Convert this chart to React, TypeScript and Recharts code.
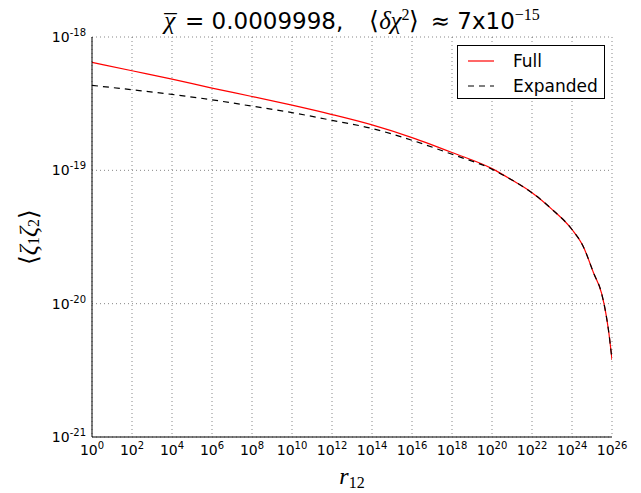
import React from "react";
import { LineChart, Line, XAxis, YAxis, CartesianGrid, Legend } from "recharts";

// values (log-log)
const rValues = [
  1, 1e2, 1e4, 1e6, 1e8, 1e10, 1e12, 1e14, 1e16, 1e18, 1e20, 1e21, 1e22, 1e23,
  1e24, 3.6e24, 1.2e25, 3.0e25, 4.9e25, 6.6e25, 1e26,
];
const fullValues = [
  6.45e-19, 5.58e-19, 4.83e-19, 4.14e-19, 3.58e-19, 3.08e-19, 2.62e-19,
  2.19e-19, 1.76e-19, 1.36e-19, 1.03e-19, 8.45e-20, 6.8e-20, 5.1e-20, 3.6e-20,
  2.7e-20, 1.7e-20, 1.2e-20, 8.5e-21, 6.4e-21, 3.8e-21,
];
const expandedValues = [
  4.34e-19, 4.02e-19, 3.71e-19, 3.38e-19, 3.03e-19, 2.71e-19, 2.37e-19,
  2.06e-19, 1.68e-19, 1.32e-19, 1.02e-19, 8.45e-20, 6.8e-20, 5.1e-20, 3.6e-20,
  2.7e-20, 1.7e-20, 1.2e-20, 8.5e-21, 6.4e-21, 3.8e-21,
];
const seriesNames = ["Full", "Expanded"];

const xTicks = [
  1, 1e2, 1e4, 1e6, 1e8, 1e10, 1e12, 1e14, 1e16, 1e18, 1e20, 1e22, 1e24, 1e26,
];
const yTicks = [1e-21, 1e-20, 1e-19, 1e-18];
const yMinorTicks = [1e-21, 1e-20, 1e-19].flatMap((d) =>
  [2, 3, 4, 5, 6, 7, 8, 9].map((m) => m * d)
);

const data = rValues.map((r, i) => ({
  r,
  full: fullValues[i],
  expanded: expandedValues[i],
}));

const FONT = "'DejaVu Sans', sans-serif";
const MATH = "'Liberation Serif', serif";
const X_DOMAIN = [1, 1e26];
const Y_DOMAIN = [1e-21, 1e-18];

const exp10 = (v: number) => Math.round(Math.log10(v));

const XTick = (props: any) => {
  const { x, y, payload } = props;
  return (
    <text x={x} y={y + 18} textAnchor="middle" fontFamily={FONT} fontSize={14} fill="#000">
      <tspan>10</tspan>
      <tspan dy={-6} fontSize={10}>{exp10(payload.value)}</tspan>
    </text>
  );
};

const YTick = (props: any) => {
  const { x, y, payload } = props;
  return (
    <text x={x - 6} y={y + 5} textAnchor="end" fontFamily={FONT} fontSize={14} fill="#000">
      <tspan>10</tspan>
      <tspan dy={-6} fontSize={10}>{exp10(payload.value)}</tspan>
    </text>
  );
};

const LegendBox = (props: any) => {
  const { payload = [] } = props;
  const items = seriesNames
    .map((n) => payload.find((p: any) => p.value === n))
    .filter(Boolean);
  return (
    <div
      style={{
        border: "1px solid #000",
        background: "#fff",
        width: 148,
        height: 54,
        boxSizing: "border-box",
        fontFamily: FONT,
        fontSize: 17,
        paddingTop: 2,
      }}
    >
      {items.map((p: any) => (
        <div key={p.value} style={{ display: "flex", alignItems: "center", height: 25 }}>
          <svg width={55} height={10}>
            <line
              x1={10}
              x2={36}
              y1={5}
              y2={5}
              stroke={p.color}
              strokeWidth={1.2}
              strokeDasharray={p.payload?.strokeDasharray}
            />
          </svg>
          <span>{p.value}</span>
        </div>
      ))}
    </div>
  );
};

export default function App() {
  return (
    <div style={{ position: "absolute", left: 0, top: 0, background: "#fff" }}>
      <LineChart
        width={641}
        height={493}
        data={data}
        margin={{ top: 37, right: 29, bottom: 0, left: 0 }}
      >
        <CartesianGrid stroke="#000" strokeOpacity={0.6} strokeDasharray="1 3" strokeWidth={0.8} />

        <XAxis
          dataKey="r"
          type="number"
          scale="log"
          domain={X_DOMAIN}
          ticks={xTicks}
          interval={0}
          allowDataOverflow
          height={56}
          tickLine={false}
          tickSize={0}
          tickMargin={0}
          axisLine={{ stroke: "#000", strokeWidth: 1 }}
          tick={<XTick />}
        />
        <XAxis
          xAxisId="bottomTicks"
          orientation="bottom"
          mirror
          type="number"
          scale="log"
          domain={X_DOMAIN}
          ticks={xTicks}
          interval={0}
          allowDataOverflow
          height={0}
          tick={false}
          tickSize={5}
          tickLine={{ stroke: "#000" }}
          axisLine={false}
        />
        <XAxis
          xAxisId="topTicks"
          orientation="top"
          mirror
          type="number"
          scale="log"
          domain={X_DOMAIN}
          ticks={xTicks}
          interval={0}
          allowDataOverflow
          height={0}
          tick={false}
          tickSize={5}
          tickLine={{ stroke: "#000" }}
          axisLine={{ stroke: "#000", strokeWidth: 1 }}
        />

        <YAxis
          type="number"
          scale="log"
          domain={Y_DOMAIN}
          ticks={yTicks}
          interval={0}
          allowDataOverflow
          width={92}
          tickLine={false}
          tickSize={0}
          tickMargin={0}
          axisLine={{ stroke: "#000", strokeWidth: 1 }}
          tick={<YTick />}
        />
        <YAxis
          yAxisId="leftMajor"
          orientation="left"
          mirror
          type="number"
          scale="log"
          domain={Y_DOMAIN}
          ticks={yTicks}
          interval={0}
          allowDataOverflow
          width={0}
          tick={false}
          tickSize={5}
          tickLine={{ stroke: "#000" }}
          axisLine={false}
        />
        <YAxis
          yAxisId="leftMinor"
          orientation="left"
          mirror
          type="number"
          scale="log"
          domain={Y_DOMAIN}
          ticks={yMinorTicks}
          interval={0}
          allowDataOverflow
          width={0}
          tick={false}
          tickSize={3}
          tickLine={{ stroke: "#000" }}
          axisLine={false}
        />
        <YAxis
          yAxisId="rightMajor"
          orientation="right"
          mirror
          type="number"
          scale="log"
          domain={Y_DOMAIN}
          ticks={yTicks}
          interval={0}
          allowDataOverflow
          width={0}
          tick={false}
          tickSize={5}
          tickLine={{ stroke: "#000" }}
          axisLine={{ stroke: "#000", strokeWidth: 1 }}
        />
        <YAxis
          yAxisId="rightMinor"
          orientation="right"
          mirror
          type="number"
          scale="log"
          domain={Y_DOMAIN}
          ticks={yMinorTicks}
          interval={0}
          allowDataOverflow
          width={0}
          tick={false}
          tickSize={3}
          tickLine={{ stroke: "#000" }}
          axisLine={false}
        />

        <Line
          name="Full"
          dataKey="full"
          type="monotone"
          stroke="#ff0000"
          strokeWidth={1.2}
          dot={false}
          isAnimationActive={false}
        />
        <Line
          name="Expanded"
          dataKey="expanded"
          type="monotone"
          stroke="#000"
          strokeWidth={1.2}
          strokeDasharray="6 5"
          dot={false}
          isAnimationActive={false}
        />

        <Legend
          layout="vertical"
          align="center"
          verticalAlign="middle"
          content={<LegendBox />}
          wrapperStyle={{ left: 457, top: 45, width: 148, height: 54 }}
        />

        <text x={352} y={29} textAnchor="middle" fontSize={23} fill="#000" fontFamily={FONT}>
          <tspan fontFamily={MATH} fontStyle="italic" fontSize={25}>χ</tspan>
          <tspan fontFamily={MATH} fontSize={25} dx={-11} dy={3}>¯</tspan>
          <tspan dx={1} dy={-3}> = 0.0009998,</tspan>
          <tspan dx={26} fontFamily={MATH} fontSize={25}>⟨</tspan>
          <tspan fontFamily={MATH} fontStyle="italic" fontSize={25}>δχ</tspan>
          <tspan dy={-9} fontSize={16} fontFamily={MATH}>2</tspan>
          <tspan dy={9} fontFamily={MATH} fontSize={25}>⟩</tspan>
          <tspan dx={4}> ≈ 7x10</tspan>
          <tspan dy={-9} fontSize={16} fontFamily={MATH}>−15</tspan>
        </text>

        <text
          x={28}
          y={237}
          transform="rotate(-90 28 237)"
          textAnchor="middle"
          dominantBaseline="central"
          fontSize={25}
          fill="#000"
          fontFamily={MATH}
        >
          <tspan>⟨</tspan>
          <tspan fontStyle="italic">ζ</tspan>
          <tspan fontSize={16} dy={5}>1</tspan>
          <tspan fontStyle="italic" dy={-5}>ζ</tspan>
          <tspan fontSize={16} dy={5}>2</tspan>
          <tspan dy={-5}>⟩</tspan>
        </text>

        <text x={352} y={484} textAnchor="middle" fontSize={24} fill="#000" fontFamily={MATH}>
          <tspan fontStyle="italic">r</tspan>
          <tspan fontSize={16} dy={4}>12</tspan>
        </text>
      </LineChart>
    </div>
  );
}
